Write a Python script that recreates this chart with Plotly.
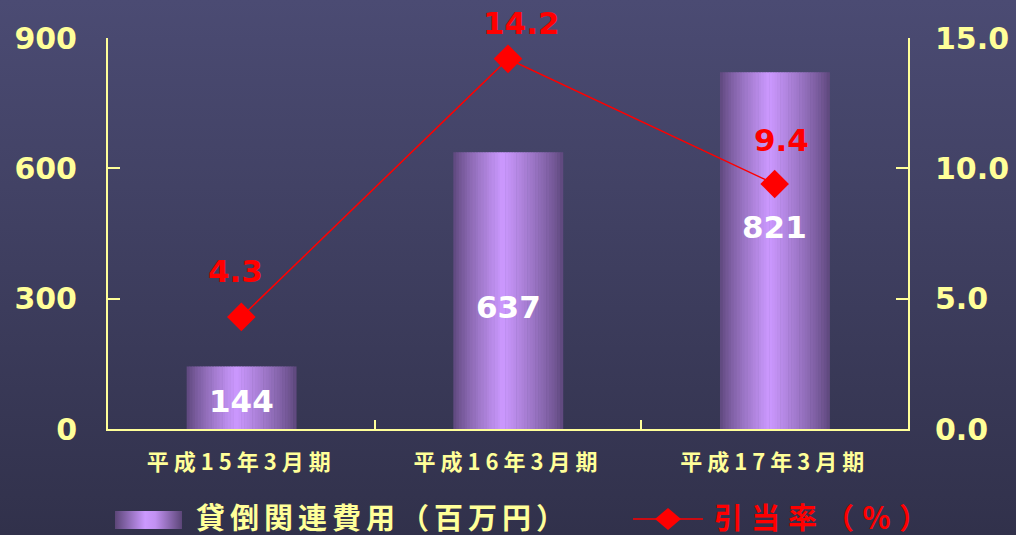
import base64
import plotly.graph_objects as go

# ---- data ----
periods = ["平成15年3月期", "平成16年3月期", "平成17年3月期"]
loan_loss_costs = [144, 637, 821]          # 貸倒関連費用 (百万円)
provision_rate = [4.3, 14.2, 9.4]          # 引当率 (%)
left_ticks = [0, 300, 600, 900]
right_ticks = [0.0, 5.0, 10.0, 15.0]

YELLOW = "#ffff99"
RED = "#ff0000"
W, H = 1016, 535
ML, MR, MT, MB = 108, 108, 38, 106
PW, PH = W - ML - MR, H - MT - MB
NUM_FAMILY = "DejaVu Sans"
JP_FAMILY = "Noto Sans CJK JP"


def px2paper(x, y):
    return (x - ML) / PW, (H - MB - y) / PH


def svg_uri(svg):
    return "data:image/svg+xml;base64," + base64.b64encode(svg.encode()).decode()


bg_svg = (
    f"<svg xmlns='http://www.w3.org/2000/svg' width='{W}' height='{H}' preserveAspectRatio='none'>"
    "<defs><linearGradient id='g' x1='0' y1='0' x2='0' y2='1'>"
    "<stop offset='0' stop-color='#4b4b73'/><stop offset='1' stop-color='#31314b'/>"
    "</linearGradient></defs>"
    f"<rect width='{W}' height='{H}' fill='url(#g)'/></svg>"
)

swatch_svg = (
    "<svg xmlns='http://www.w3.org/2000/svg' width='100' height='20' preserveAspectRatio='none'>"
    "<defs><linearGradient id='b' x1='0' y1='0' x2='1' y2='0'>"
    "<stop offset='0' stop-color='#5c4678'/><stop offset='0.45' stop-color='#cc99ff'/>"
    "<stop offset='0.6' stop-color='#c291f2'/><stop offset='1' stop-color='#5c4678'/>"
    "</linearGradient></defs><rect width='100' height='20' fill='url(#b)'/></svg>"
)


def bar_shade(t):
    # horizontal shading across a bar: dark edges, light near the middle
    dark = (92, 70, 122)
    light = (204, 153, 255)
    peak = 0.45
    if t <= peak:
        f = t / peak
    else:
        f = 1 - (t - peak) / (1 - peak)
    f = f ** 0.8
    c = [round(d + (l - d) * f) for d, l in zip(dark, light)]
    return f"rgb({c[0]},{c[1]},{c[2]})"


fig = go.Figure()

# bars built from vertical slices to get a cylinder-like shading
bar_width = 0.41
n_slices = 40
sw = bar_width / n_slices
for i in range(n_slices):
    fig.add_trace(go.Bar(
        x=periods, y=loan_loss_costs,
        width=sw * 1.2, offset=-bar_width / 2 + i * sw,
        marker=dict(color=bar_shade((i + 0.5) / n_slices), line=dict(width=0)),
        showlegend=False, hoverinfo="skip",
    ))

fig.add_trace(go.Scatter(
    x=periods, y=provision_rate, yaxis="y2", mode="lines+markers",
    line=dict(color=RED, width=1.5),
    marker=dict(symbol="diamond", size=22, color=RED),
    showlegend=False, cliponaxis=False,
))

annotations = []
# bar value labels
bar_label_shift = [-3, -16, 24]
for p, v, s in zip(periods, loan_loss_costs, bar_label_shift):
    annotations.append(dict(
        x=p, y=v / 2, yref="y", text=str(v), showarrow=False, yshift=s,
        font=dict(family=NUM_FAMILY, size=31, color="white", weight="bold"),
    ))
# rate labels
rate_xshift = [-6, 13, 7]
rate_yshift = [46, 36, 44]
for p, v, xs, ys in zip(periods, provision_rate, rate_xshift, rate_yshift):
    annotations.append(dict(
        x=p, y=v, yref="y2", text=f"{v:.1f}", showarrow=False,
        xshift=xs, yshift=ys,
        font=dict(family=NUM_FAMILY, size=31, color=RED, weight="bold"),
    ))

# legend
lx, ly = px2paper(194, 516)
annotations.append(dict(
    x=lx, y=ly, xref="paper", yref="paper", xanchor="left", yanchor="middle", align="left",
    text="貸倒関連費用（百万円）", showarrow=False,
    font=dict(family=JP_FAMILY, size=29, color=YELLOW, weight="bold"),
))
rx, ry = px2paper(712, 516)
annotations.append(dict(
    x=rx, y=ry, xref="paper", yref="paper", xanchor="left", yanchor="middle", align="left",
    text="引当率（％）", showarrow=False,
    font=dict(family=JP_FAMILY, size=29, color=RED, weight="bold"),
))

shapes = []
x0, y0 = px2paper(633, 519)
x1, _ = px2paper(703, 519)
shapes.append(dict(type="line", xref="paper", yref="paper", x0=x0, x1=x1, y0=y0, y1=y0,
                   line=dict(color=RED, width=1.5)))
cx, cy = 668, 519
pts = [px2paper(cx - 13, cy), px2paper(cx, cy - 11), px2paper(cx + 13, cy), px2paper(cx, cy + 11)]
path = "M " + " L ".join(f"{a},{b}" for a, b in pts) + " Z"
shapes.append(dict(type="path", xref="paper", yref="paper", path=path,
                   fillcolor=RED, line=dict(width=0)))

bx0, by0 = px2paper(0, 0)
sx0, sy0 = px2paper(115, 511)
images = [
    dict(source=svg_uri(bg_svg), xref="paper", yref="paper", x=bx0, y=by0,
         sizex=W / PW, sizey=H / PH, sizing="stretch", xanchor="left", yanchor="top",
         layer="below"),
    dict(source=svg_uri(swatch_svg), xref="paper", yref="paper", x=sx0, y=sy0,
         sizex=67 / PW, sizey=18 / PH, sizing="stretch", xanchor="left", yanchor="top",
         layer="above"),
]

num_font = dict(family=NUM_FAMILY, size=30, color=YELLOW, weight="bold")

fig.update_layout(
    width=W, height=H,
    margin=dict(l=ML, r=MR, t=MT, b=MB, pad=0, autoexpand=False),
    paper_bgcolor="#3c3c5c", plot_bgcolor="rgba(0,0,0,0)",
    barmode="overlay",
    showlegend=False,
    xaxis=dict(
        type="category", range=[-0.5, 2.5], showgrid=False, automargin=False,
        showline=True, linecolor=YELLOW, linewidth=2,
        ticks="inside", tickson="boundaries", ticklen=9, tickwidth=2, tickcolor=YELLOW,
        tickfont=dict(family=JP_FAMILY, size=22, color=YELLOW, weight="bold"),
        ticklabelstandoff=13,
    ),
    yaxis=dict(
        range=[0, 900], tickvals=left_ticks, showgrid=False, zeroline=False, automargin=False,
        showline=True, linecolor=YELLOW, linewidth=2,
        ticks="inside", ticklen=12, tickwidth=2, tickcolor=YELLOW,
        tickfont=num_font, ticklabelstandoff=23,
    ),
    yaxis2=dict(
        range=[0, 15], tickvals=right_ticks, tickformat=".1f", overlaying="y", side="right",
        showgrid=False, zeroline=False, automargin=False,
        showline=True, linecolor=YELLOW, linewidth=2,
        ticks="inside", ticklen=12, tickwidth=2, tickcolor=YELLOW,
        tickfont=num_font, ticklabelstandoff=19,
    ),
    annotations=annotations,
    shapes=shapes,
    images=images,
)

# widen the spacing of the Japanese labels and refit the legend label boxes
spacing_js = """
var gd = document.getElementById('{plot_id}');
var cjk = /[\\u3000-\\u9fff\\uff00-\\uffef]/;
gd.querySelectorAll('.xtick text').forEach(function (t) { t.style.letterSpacing = '5px'; });
gd.querySelectorAll('.annotation-text').forEach(function (t) {
    var s = t.textContent;
    if (!cjk.test(s)) { return; }
    t.style.letterSpacing = (s.indexOf('引当率') === 0) ? '8px' : '5px';
    var bg = t.parentNode.querySelector('rect.bg');
    if (bg) {
        var bb = t.getBBox();
        bg.setAttribute('width', Math.ceil(bb.x + bb.width + 2));
    }
});
"""

fig.write_html("out.html", post_script=spacing_js)
